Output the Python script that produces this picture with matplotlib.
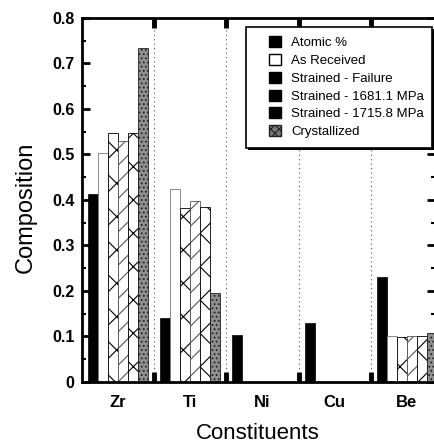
import matplotlib
matplotlib.use('Agg')
import matplotlib.pyplot as plt
import matplotlib.patches as mpatches
from matplotlib.ticker import MultipleLocator, FixedLocator
import numpy as np

plt.rcParams['font.family'] = 'Liberation Sans'
plt.rcParams['hatch.linewidth'] = 0.8

# Data
constituents = ['Zr', 'Ti', 'Ni', 'Cu', 'Be']
atomic = [0.413, 0.141, 0.103, 0.130, 0.230]
as_received = [0.503, 0.424, 0.0, 0.0, 0.101]
strained_failure = [0.547, 0.382, 0.0, 0.0, 0.098]
strained_1681 = [0.530, 0.398, 0.0, 0.0, 0.101]
strained_1715 = [0.547, 0.384, 0.0, 0.0, 0.101]
crystallized = [0.735, 0.196, 0.0, 0.0, 0.108]

series = [atomic, as_received, strained_failure, strained_1681, strained_1715, crystallized]
labels = ['Atomic %', 'As Received', 'Strained - Failure',
          'Strained - 1681.1 MPa', 'Strained - 1715.8 MPa', 'Crystallized']
styles = [
    dict(facecolor='black', edgecolor='black', hatch=None, lw=0.5),
    dict(facecolor='white', edgecolor='#777777', hatch=None, lw=0.6),
    dict(facecolor='white', edgecolor='black', hatch='x', lw=0.6),
    dict(facecolor='white', edgecolor='#555555', hatch='//', lw=0.6),
    dict(facecolor='white', edgecolor='black', hatch='x', lw=0.6),
    dict(facecolor='#8f8f8f', edgecolor='#222222', hatch='....', lw=0.6),
]

fig = plt.figure(figsize=(4.35, 4.43), dpi=100)
ax = fig.add_axes([0.1885, 0.1377, 0.8115, 0.8217])

x = np.arange(len(constituents))
width = 0.1385
n = len(series)
for i, (vals, st) in enumerate(zip(series, styles)):
    offs = (i - (n - 1) / 2) * width
    ax.bar(x + offs, vals, width, facecolor=st['facecolor'], edgecolor=st['edgecolor'],
           hatch=st['hatch'], linewidth=st['lw'])

ax.set_xlim(-0.5, 4.39)
ax.set_ylim(0, 0.8)

# group separators: thick inward ticks + dotted lines
bounds = x[:-1] + 0.5
ax.xaxis.set_major_locator(FixedLocator(bounds))
ax.xaxis.set_major_formatter(plt.NullFormatter())
ax.set_xticks(x, constituents, minor=True)
ax.tick_params(axis='x', which='major', direction='in', length=7, width=3.5,
               top=True, bottom=True)
ax.tick_params(axis='x', which='minor', length=0, pad=9.5, labelsize=12)
ax.grid(axis='x', which='major', linestyle=(0, (1, 3)), color='#555555', linewidth=0.8)
ax.set_axisbelow(True)

ax.set_yticks(np.arange(0, 0.81, 0.1), ['0', '0.1', '0.2', '0.3', '0.4', '0.5', '0.6', '0.7', '0.8'])
ax.yaxis.set_minor_locator(MultipleLocator(0.05))
ax.tick_params(axis='y', which='major', direction='in', length=6, width=2,
               left=True, right=True, labelsize=11.5, pad=5.5)
ax.tick_params(axis='y', which='minor', direction='in', length=3, width=1.5,
               left=True, right=True)
for lab in ax.get_yticklabels():
    lab.set_fontweight('bold')
for lab in ax.get_xticklabels(minor=True):
    lab.set_fontweight('bold')

for sp in ax.spines.values():
    sp.set_linewidth(2)

ax.set_ylabel('Composition', fontsize=17)
ax.yaxis.set_label_coords(-0.1275, 0.48)
ax.set_xlabel('Constituents', fontsize=16)
ax.xaxis.set_label_coords(0.497, -0.112)

# legend box with a drop shadow, drawn by hand
ax.add_patch(mpatches.Rectangle((0.4706, 0.637), 0.527, 0.332, transform=ax.transAxes,
                                facecolor='black', edgecolor='none', zorder=5,
                                clip_on=False))
ax.add_patch(mpatches.Rectangle((0.4646, 0.643), 0.527, 0.3323, transform=ax.transAxes,
                                facecolor='white', edgecolor='black', linewidth=1.2,
                                zorder=6, clip_on=False))

# legend entries (as printed: mostly solid squares)
handles = [
    mpatches.Patch(facecolor='black', edgecolor='black'),
    mpatches.Patch(facecolor='white', edgecolor='black'),
    mpatches.Patch(facecolor='black', edgecolor='black'),
    mpatches.Patch(facecolor='black', edgecolor='black'),
    mpatches.Patch(facecolor='black', edgecolor='black'),
    mpatches.Patch(facecolor='#7a7a7a', edgecolor='#222222', hatch='xxxx'),
]
leg = ax.legend(handles, labels, loc='upper left', bbox_to_anchor=(0.531, 0.951),
                fontsize=9.5, frameon=False,
                handlelength=0.9, handleheight=0.9, handletextpad=0.75,
                borderpad=0, labelspacing=0.37, borderaxespad=0)
leg.set_zorder(7)

fig.savefig('out.png', dpi=100)
